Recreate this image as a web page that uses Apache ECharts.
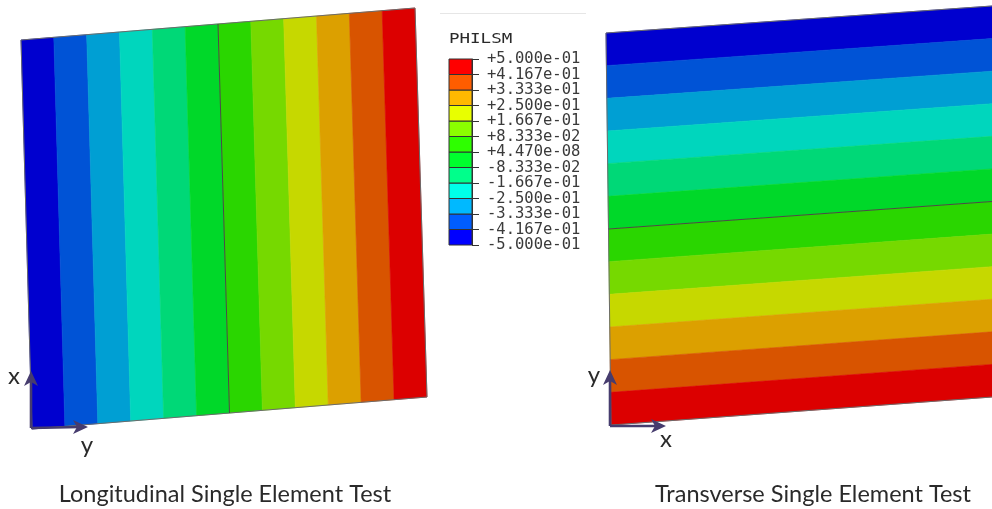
<!DOCTYPE html>
<html><head><meta charset="utf-8">
<style>html,body{margin:0;padding:0;background:#fff}#c{width:992px;height:509px}</style>
<script src="https://cdn.jsdelivr.net/npm/echarts@6/dist/echarts.min.js"></script>
</head><body><div id="c"></div>
<script>
const tickLabels = ['-5.000e-01','-4.167e-01','-3.333e-01','-2.500e-01','-1.667e-01','-8.333e-02','+4.470e-08','+8.333e-02','+1.667e-01','+2.500e-01','+3.333e-01','+4.167e-01','+5.000e-01'];
const contourLevels = [-0.5,-0.4167,-0.3333,-0.25,-0.1667,-0.0833,0,0.0833,0.1667,0.25,0.3333,0.4167,0.5];
const plateColors = ['#0000cf','#0053d6','#009fd3','#00d6bd','#00d877','#00d829','#2ad600','#76d900','#c6d800','#dca000','#d85400','#dc0000'];
const legendColors = ['#0000ff','#005dff','#00b9ff','#00ffe8','#00ff8b','#00ff2e','#2eff00','#8bff00','#e8ff00','#ffb900','#ff5d00','#ff0000'];
const captions = ['Longitudinal Single Element Test','Transverse Single Element Test'];
const legendTitle = 'PHILSM';

const leftPlate = {tl:[21,40],tr:[415,8],br:[427,397],bl:[32,429]};
const rightPlate = {tl:[606,33],tr:[992,6],br:[992,397],bl:[611,425]};
const triadColor = '#463c6e';

const mix=(a,b,t)=>[a[0]+(b[0]-a[0])*t,a[1]+(b[1]-a[1])*t];
const pos=v=>v+0.5;
function leftPts(lo,hi){const p=leftPlate;return [mix(p.tl,p.tr,pos(lo)),mix(p.tl,p.tr,pos(hi)),mix(p.bl,p.br,pos(hi)),mix(p.bl,p.br,pos(lo))];}
function rightPts(lo,hi){const p=rightPlate;return [mix(p.tl,p.bl,pos(lo)),mix(p.tr,p.br,pos(lo)),mix(p.tr,p.br,pos(hi)),mix(p.tl,p.bl,pos(hi))];}
const bandRows=plateColors.map((c,i)=>[contourLevels[i],contourLevels[i+1]]);

function bandSeries(name,fn){
  return {type:'custom',name,coordinateSystem:'cartesian2d',xAxisIndex:0,yAxisIndex:0,silent:true,clip:false,data:bandRows,
    renderItem(params,api){
      const pts=fn(api.value(0),api.value(1)).map(q=>api.coord(q));
      return {type:'polygon',shape:{points:pts},style:{fill:plateColors[params.dataIndex],stroke:plateColors[params.dataIndex],lineWidth:0.6}};
    }};
}
function lineSeries(name,paths,color,width,z){
  return {type:'custom',name,coordinateSystem:'cartesian2d',xAxisIndex:0,yAxisIndex:0,silent:true,clip:false,z:z||3,data:paths.map((_,i)=>[i]),
    renderItem(params,api){
      const pts=paths[params.dataIndex].map(q=>api.coord(q));
      return {type:'polyline',shape:{points:pts},style:{fill:null,stroke:color,lineWidth:width}};
    }};
}
function arrowHead(tip,dir){
  const [x,y]=tip;
  return dir==='up'?[[x,y],[x+7,y+15],[x,y+11],[x-7,y+15]]:[[x,y],[x-15,y+7],[x-11,y],[x-15,y-7]];
}
function headSeries(name,heads){
  return {type:'custom',name,coordinateSystem:'cartesian2d',xAxisIndex:0,yAxisIndex:0,silent:true,clip:false,z:5,data:heads.map((_,i)=>[i]),
    renderItem(params,api){
      const pts=heads[params.dataIndex].map(q=>api.coord(q));
      return {type:'polygon',shape:{points:pts},style:{fill:triadColor}};
    }};
}
const L=leftPlate,R=rightPlate;
const lOrigin=[31,428],rOrigin=[610,426];
const captionFont='Lato';
const txt=(s,x,y,size,font,align,extra)=>Object.assign({type:'text',x,y,style:{text:s,font:size+'px '+font,fill:'#2a2a2a',textAlign:align||'center',textVerticalAlign:'middle'},silent:true},extra||{});

const option={
  animation:false,backgroundColor:'#ffffff',
  grid:[
    {left:0,top:0,width:992,height:509},
    {left:449,top:59,width:23,height:186}
  ],
  xAxis:[
    {type:'value',gridIndex:0,min:0,max:992,show:false},
    {type:'value',gridIndex:1,min:0,max:1,show:false}
  ],
  yAxis:[
    {type:'value',gridIndex:0,min:0,max:509,inverse:true,show:false},
    {type:'category',gridIndex:1,data:tickLabels,boundaryGap:false,position:'right',
     axisLine:{show:true,onZero:false,lineStyle:{color:'#333',width:1}},
     axisTick:{show:true,inside:false,length:7,lineStyle:{color:'#333',width:1}},
     axisLabel:{show:true,interval:0,margin:15,color:'#3a3a3a',fontFamily:'DejaVu Sans Mono',fontSize:15.5},
     splitLine:{show:false}}
  ],
  graphic:[
    {type:'line',shape:{x1:440,y1:13.5,x2:586,y2:13.5},style:{stroke:'#e6e6e6',lineWidth:1},silent:true},
    txt(legendTitle,449,39,14,'DejaVu Sans Mono','left',{scaleX:1.25}),
    txt(captions[0],225,494,23.5,captionFont),
    txt(captions[1],813,494,23.5,captionFont),
    txt('x',14,376,24,captionFont),
    txt('y',87,445,24,captionFont),
    txt('y',594,375,24,captionFont),
    txt('x',666,439,24,captionFont)
  ],
  series:[
    bandSeries('Longitudinal',leftPts),
    bandSeries('Transverse',rightPts),
    lineSeries('Longitudinal edge',[[L.tl,L.tr,L.br,L.bl,L.tl]],'#6b6b6b',1),
    lineSeries('Transverse edge',[[R.bl,R.tl,R.tr],[R.bl,R.br]],'#6b6b6b',1),
    lineSeries('Element boundary',[leftPts(0,0).slice(0,1).concat(leftPts(0,0).slice(3)),[mix(R.tl,R.bl,pos(0)),mix(R.tr,R.br,pos(0))]],'#4a4a4a',1),
    lineSeries('Triad',[[lOrigin,[31,378]],[lOrigin,[80,427]],[rOrigin,[610,378]],[rOrigin,[658,426]]],triadColor,2.6,4),
    headSeries('Triad heads',[arrowHead([31,371],'up'),arrowHead([88,427],'right'),arrowHead([610,370],'up'),arrowHead([666,426],'right')]),
    {type:'custom',name:'PHILSM legend',coordinateSystem:'cartesian2d',xAxisIndex:1,yAxisIndex:1,silent:true,clip:false,data:legendColors.map((c,i)=>[i]),
     renderItem(params,api){
       const i=api.value(0);
       const a=api.coord([0,i]),b=api.coord([1,i+1]);
       return {type:'rect',shape:{x:a[0],y:b[1],width:b[0]-a[0],height:a[1]-b[1]},style:{fill:legendColors[params.dataIndex],stroke:'#333',lineWidth:1}};
     }}
  ]
};
echarts.init(document.getElementById('c'),null,{renderer:'canvas'}).setOption(option);
</script></body></html>
